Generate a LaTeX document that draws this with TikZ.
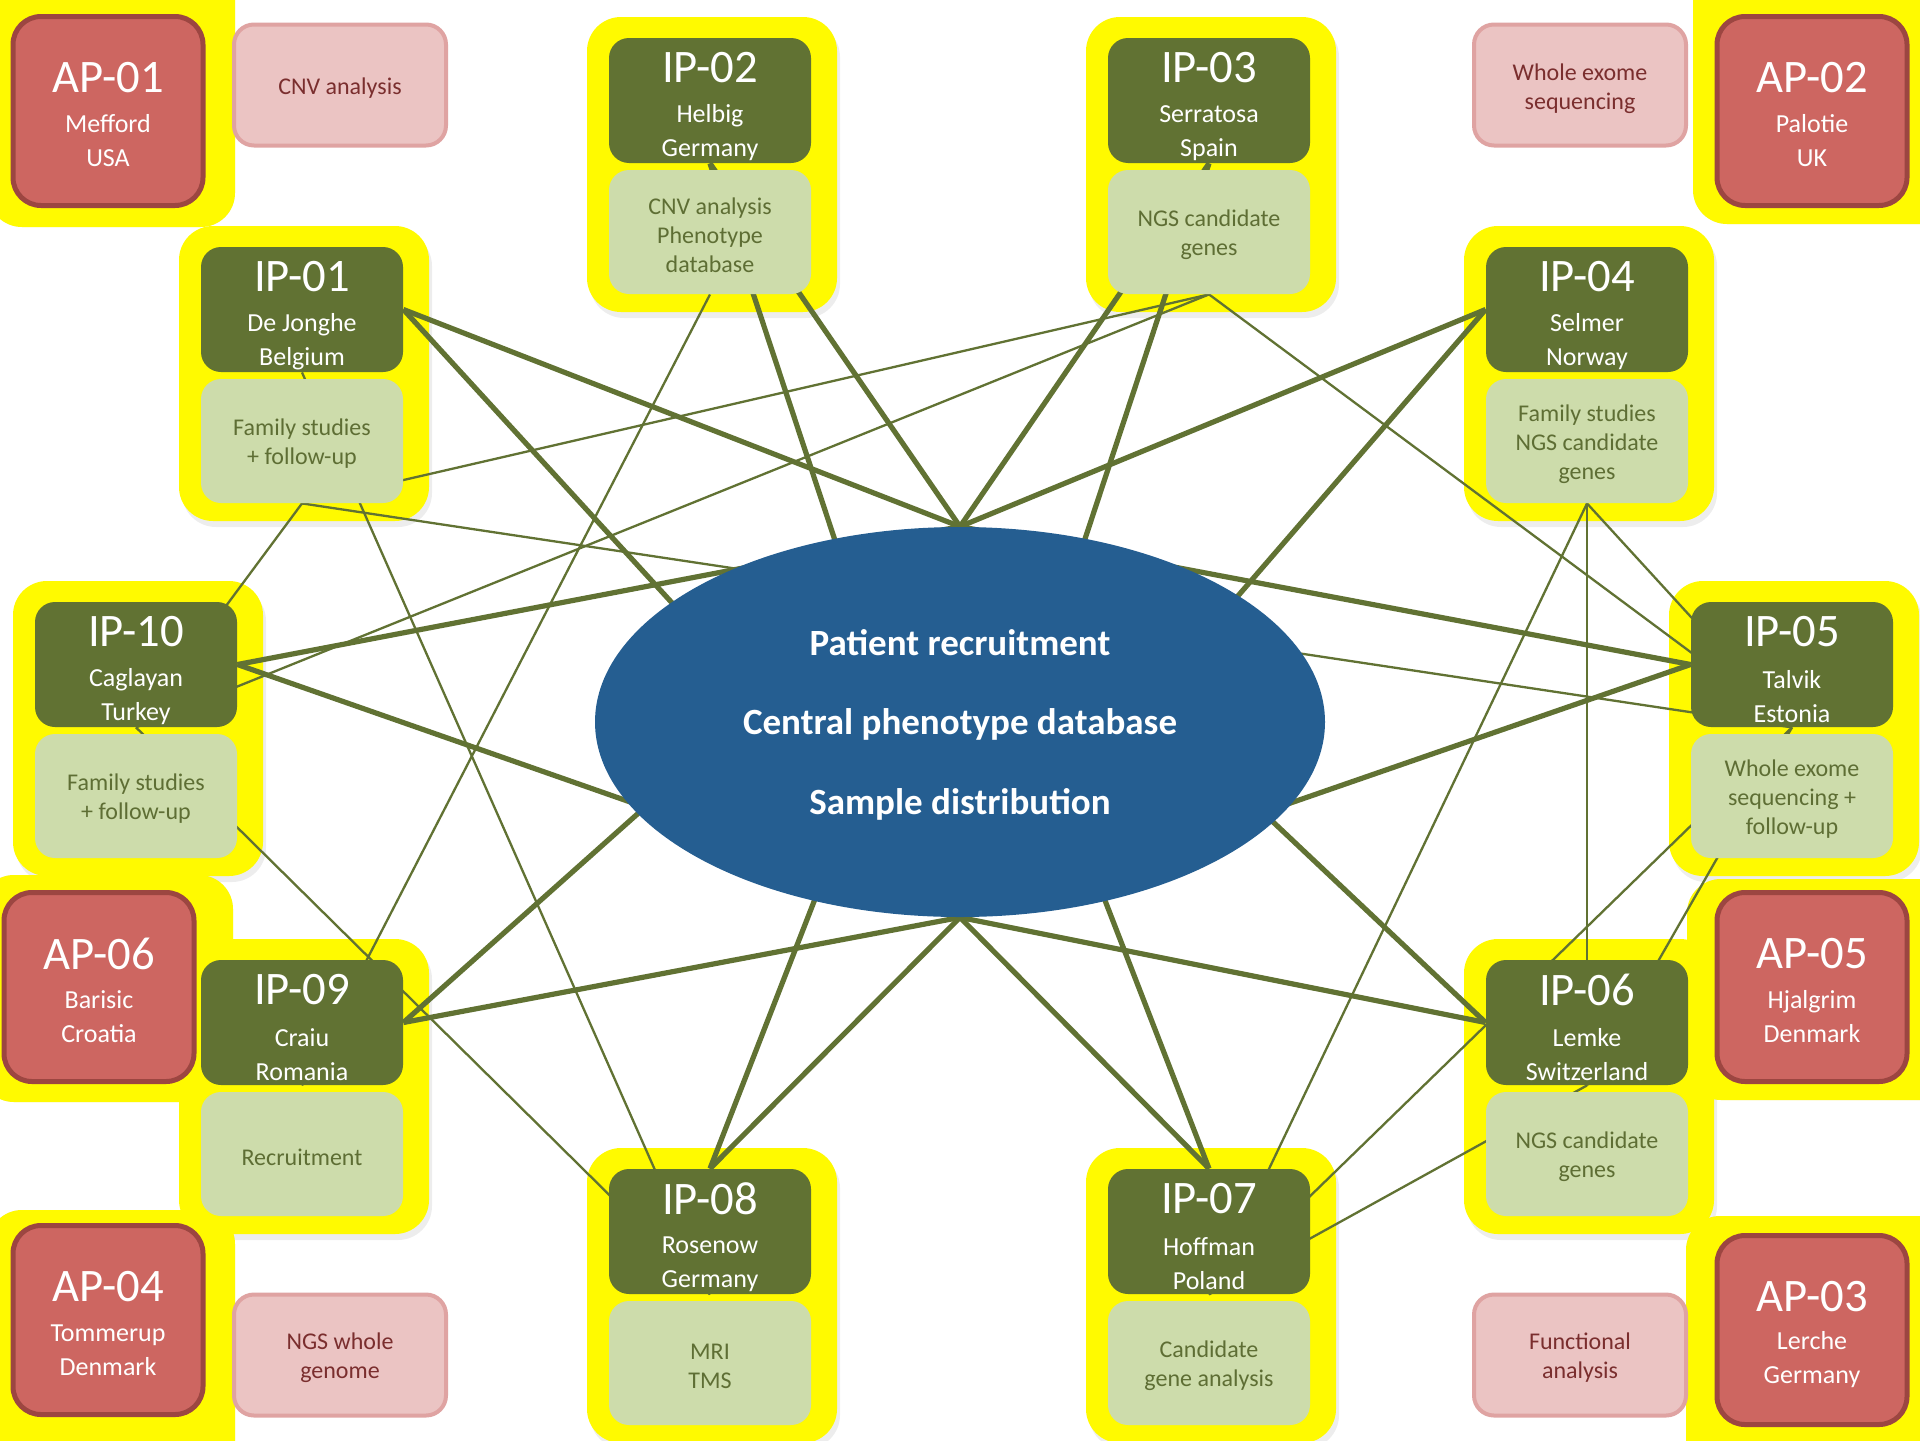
\documentclass[tikz,border=0pt]{standalone}
\usepackage{fontspec}
\setmainfont{Carlito}
\usetikzlibrary{shapes.geometric}
\pgfdeclarelayer{shd}
\pgfdeclarelayer{ylwl}
\pgfdeclarelayer{lns}
\pgfsetlayers{shd,ylwl,lns,main}

\definecolor{dgreen}{RGB}{97,114,51}
\definecolor{lgreen}{RGB}{205,220,171}
\definecolor{ltext}{RGB}{94,110,52}
\definecolor{yellowc}{RGB}{255,250,0}
\definecolor{apfill}{RGB}{205,102,97}
\definecolor{apborder}{RGB}{156,70,65}
\definecolor{pkfill}{RGB}{235,196,195}
\definecolor{pkborder}{RGB}{223,163,162}
\definecolor{pktext}{RGB}{122,46,46}
\definecolor{eblue}{RGB}{37,94,145}
\definecolor{lcol}{RGB}{97,114,51}

\tikzset{
  ylwbox/.style={fill=yellowc, rounded corners=17pt},
  shdbox/.style={fill=black, fill opacity=0.07, rounded corners=17pt},
  ipdark/.style={fill=dgreen, rounded corners=10pt, minimum width=101pt, minimum height=62.5pt, inner sep=0pt},
  iplight/.style={fill=lgreen, rounded corners=10pt, minimum width=101pt, minimum height=62pt, inner sep=0pt},
  lighttxt/.style={text=ltext, align=center, inner sep=0pt, font=\fontsize{12}{14.5}\selectfont},
  bigtxt/.style={text=white, font=\fontsize{23.3}{26}\selectfont, inner sep=0pt},
  smalltxt/.style={text=white, font=\fontsize{13}{17}\selectfont, inner sep=0pt, align=center},
  apbox/.style={fill=apfill, draw=apborder, line width=2.5pt, rounded corners=14pt, minimum width=95pt, minimum height=94.5pt, inner sep=0pt},
  pkbox/.style={fill=pkfill, draw=pkborder, line width=2pt, rounded corners=10pt, minimum width=106pt, minimum height=60.5pt, inner sep=0pt},
  pktxt/.style={text=pktext, align=center, inner sep=0pt, font=\fontsize{12}{14.5}\selectfont},
  etxt/.style={text=white, font=\bfseries\fontsize{18.5}{22}\selectfont, inner sep=0pt, anchor=base},
  thickln/.style={draw=lcol, line width=2.6pt},
  thinln/.style={draw=lcol, line width=1.15pt},
}

% #1 n, #2 cx, #3 top, #4 label, #5 name, #6 country, #7 light text
\newcommand{\ipgroup}[7]{%
  \begin{pgfonlayer}{shd}
    \fill[shdbox] ({#2-123+3},{#3-21+6}) rectangle ({#2+127+3},{#3+274+6});
  \end{pgfonlayer}
  \begin{pgfonlayer}{ylwl}
    \fill[ylwbox] ({#2-123},{#3-21}) rectangle ({#2+127},{#3+274});
  \end{pgfonlayer}
  \node[ipdark] (ip#1d) at (#2,{#3+62.5}) {};
  \node[iplight] (ip#1l) at (#2,{#3+194}) {};
  \node[lighttxt] (ip#1t) at (#2,{#3+197}) {#7};
  \node[bigtxt] (ip#1a) at (#2,{#3+30}) {#4};
  \node[smalltxt] (ip#1b) at (#2,{#3+95}) {#5\\#6};
}
% #1 n, #2 cx, #3 cy, #4 label, #5 name, #6 country, #7 yellow rectangle
\newcommand{\apgroup}[7]{%
  \begin{pgfonlayer}{shd}
    \fill[shdbox] #7;
  \end{pgfonlayer}
  \begin{pgfonlayer}{ylwl}
    \fill[ylwbox] #7;
  \end{pgfonlayer}
  \node[apbox] (ap#1) at (#2,#3) {};
  \node[bigtxt] (ap#1a) at (#2,{#3-33}) {#4};
  \node[smalltxt] (ap#1b) at (#2,{#3+30}) {#5\\#6};
}

\begin{document}
\begin{tikzpicture}[x=0.5pt,y=-0.5pt]
\useasboundingbox (0,0) rectangle (1920,1440);
\begin{pgfonlayer}{shd}
  \fill[white] (0,0) rectangle (1920,1440);
\end{pgfonlayer}

% central ellipse
\node[ellipse, fill=eblue, minimum width=365pt, minimum height=195pt, inner sep=0pt] (hub) at (960,722) {};
\node[etxt] (e1) at (960,655) {Patient recruitment};
\node[etxt] (e2) at (960,734) {Central phenotype database};
\node[etxt] (e3) at (960,814) {Sample distribution};

% IP groups
\ipgroup{1}{302}{247}{IP-01}{De Jonghe}{Belgium}{Family studies\\+ follow-up}
\ipgroup{2}{710}{38}{IP-02}{Helbig}{Germany}{CNV analysis\\Phenotype\\database}
\ipgroup{3}{1209}{38}{IP-03}{Serratosa}{Spain}{NGS candidate\\genes}
\ipgroup{4}{1587}{247}{IP-04}{Selmer}{Norway}{Family studies\\NGS candidate\\genes}
\ipgroup{5}{1792}{602}{IP-05}{Talvik}{Estonia}{Whole exome\\sequencing +\\follow-up}
\ipgroup{6}{1587}{960}{IP-06}{Lemke}{Switzerland}{NGS candidate\\genes}
\ipgroup{7}{1209}{1169}{IP-07}{Hoffman}{Poland}{Candidate\\gene analysis}
\ipgroup{8}{710}{1169}{IP-08}{Rosenow}{Germany}{MRI\\TMS}
\ipgroup{9}{302}{960}{IP-09}{Craiu}{Romania}{Recruitment}
\ipgroup{10}{136}{602}{IP-10}{Caglayan}{Turkey}{Family studies\\+ follow-up}

% AP groups
\apgroup{1}{108}{111}{AP-01}{Mefford}{USA}{(-12,-40) rectangle (235,227)}
\apgroup{2}{1812}{111}{AP-02}{Palotie}{UK}{(1693,-40) rectangle (1960,224)}
\apgroup{6}{99}{987}{AP-06}{Barisic}{Croatia}{(-20,875) rectangle (233,1102)}
\apgroup{5}{1812}{987}{AP-05}{Hjalgrim}{Denmark}{(1687,879) rectangle (1960,1100)}
\apgroup{4}{108}{1320}{AP-04}{Tommerup}{Denmark}{(-12,1210) rectangle (235,1480)}
\apgroup{3}{1812}{1330}{AP-03}{Lerche}{Germany}{(1686,1216) rectangle (1960,1480)}

% pink activity boxes
\node[pkbox] (pk1) at (340,85) {};
\node[pktxt] (pk1t) at (340,88) {CNV analysis};
\node[pkbox] (pk2) at (1580,85) {};
\node[pktxt] (pk2t) at (1580,89) {Whole exome\\sequencing};
\node[pkbox] (pk3) at (340,1355) {};
\node[pktxt] (pk3t) at (340,1358) {NGS whole\\genome};
\node[pkbox] (pk4) at (1580,1355) {};
\node[pktxt] (pk4t) at (1580,1358) {Functional\\analysis};

% connectors
\begin{pgfonlayer}{lns}
  \foreach \a in {ip1d.east, ip2d.south, ip3d.south, ip4d.west, ip5d.west, ip6d.west, ip7d.north, ip8d.north, ip9d.east, ip10d.east} {
    \draw[thickln] (\a) -- (hub.north);
    \draw[thickln] (\a) -- (hub.south);
  }
  \draw[thinln] (ip1l.south) -- (ip10d.south);
  \draw[thinln] (ip1l.south) -- (ip5d.south);
  \draw[thinln] (ip1d.south) -- (ip8d.south);
  \draw[thinln] (ip1l.south) -- (ip3l.south);
  \draw[thinln] (ip10d.south) -- (ip3l.south);
  \draw[thinln] (ip2l.south) -- (ip9d.south);
  \draw[thinln] (ip3l.south) -- (ip5d.south);
  \draw[thinln] (ip4l.south) -- (ip5d.south);
  \draw[thinln] (ip4l.south) -- (ip6d.south);
  \draw[thinln] (ip4l.south) -- (ip7d.south);
  \draw[thinln] (ip5d.south) -- (ip6d.south);
  \draw[thinln] (ip5d.south) -- (ip7d.south);
  \draw[thinln] (ip6d.south) -- (ip7d.south);
  \draw[thinln] (ip10d.south) -- (ip8d.south);
\end{pgfonlayer}
\end{tikzpicture}
\end{document}
